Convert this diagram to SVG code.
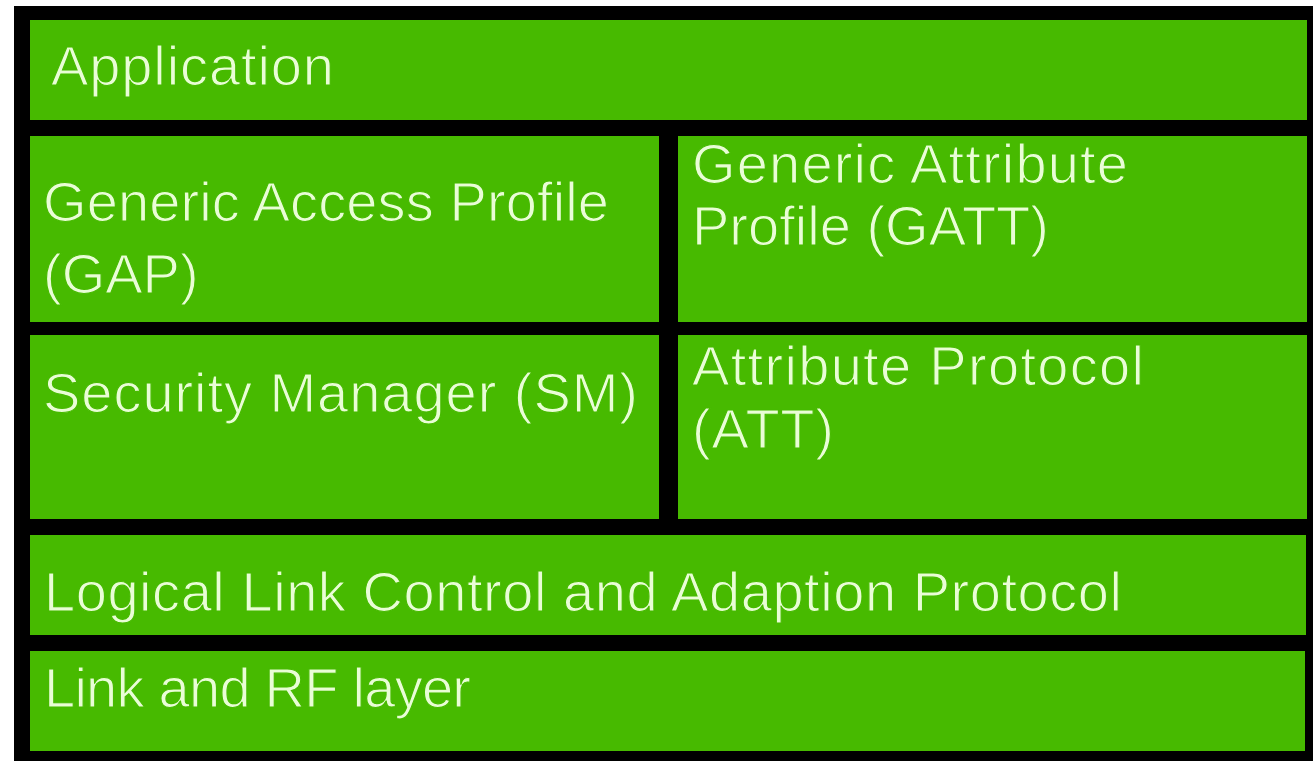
<svg xmlns="http://www.w3.org/2000/svg" width="1313" height="761" viewBox="0 0 1313 761">
  <style>
    .layer { fill: #47ba00; }
    /* thin green outline drawn over the glyphs to lighten the stroke weight */
    .label { font-family: "Liberation Sans", Arial, sans-serif; font-size: 56px; fill: #e9fdd6; stroke: #47ba00; stroke-width: 1.2px; }
  </style>
  <rect x="0" y="0" width="1313" height="761" fill="#ffffff"/>
  <rect x="14" y="6" width="1299" height="755" fill="#000000"/>

  <g id="application">
    <rect class="layer" x="30" y="20" width="1277" height="100"/>
    <text class="label" x="51" y="85" textLength="283">Application</text>
  </g>

  <g id="gap">
    <rect class="layer" x="30" y="136" width="629" height="186"/>
    <text class="label" x="43" y="221" textLength="566">Generic Access Profile</text>
    <text class="label" x="43" y="293">(GAP)</text>
  </g>

  <g id="gatt">
    <rect class="layer" x="678" y="136" width="629" height="186"/>
    <text class="label" x="692" y="183" textLength="436">Generic Attribute</text>
    <text class="label" x="692" y="245" textLength="357">Profile (GATT)</text>
  </g>

  <g id="sm">
    <rect class="layer" x="30" y="335" width="629" height="184"/>
    <text class="label" x="43" y="412" textLength="595">Security Manager (SM)</text>
  </g>

  <g id="att">
    <rect class="layer" x="678" y="335" width="629" height="184"/>
    <text class="label" x="692" y="385" textLength="452">Attribute Protocol</text>
    <text class="label" x="692" y="448" textLength="142">(ATT)</text>
  </g>

  <g id="l2cap">
    <rect class="layer" x="30" y="535" width="1276" height="100"/>
    <text class="label" x="44" y="611" textLength="1078">Logical Link Control and Adaption Protocol</text>
  </g>

  <g id="link-rf">
    <rect class="layer" x="30" y="651" width="1275" height="100"/>
    <text class="label" x="44" y="707" textLength="427">Link and RF layer</text>
  </g>

  <g id="connectors"/>
</svg>
